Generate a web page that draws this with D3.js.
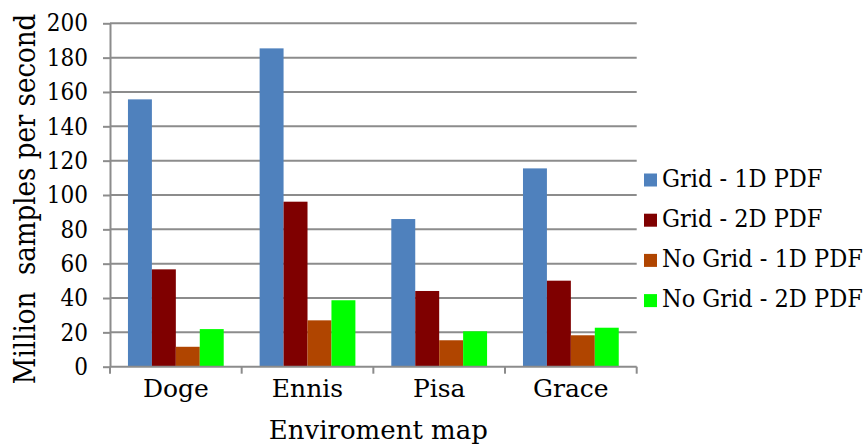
<!DOCTYPE html>
<html>
<head>
<meta charset="utf-8">
<script src="https://cdn.jsdelivr.net/npm/d3@7"></script>
<style>
  html, body { margin: 0; padding: 0; background: #fff; }
  svg { display: block; }
  text { font-family: "DejaVu Serif"; fill: #000; }
  .cond { font-family: "DejaVu Serif Condensed"; font-stretch: condensed; }
</style>
</head>
<body>
<svg id="chart" width="868" height="446"></svg>
<script>
// Throughput per environment map, in million samples per second
const maps = ["Doge", "Ennis", "Pisa", "Grace"];
const seriesNames = ["Grid - 1D PDF", "Grid - 2D PDF", "No Grid - 1D PDF", "No Grid - 2D PDF"];
const grid1D   = [155.7, 185.4, 86.0, 115.5];
const grid2D   = [56.7, 96.1, 44.1, 50.1];
const noGrid1D = [11.6, 27.0, 15.4, 18.3];
const noGrid2D = [21.9, 38.7, 20.6, 22.7];
const yTicks = [0, 20, 40, 60, 80, 100, 120, 140, 160, 180, 200];
const colors = ["#4F81BD", "#7F0000", "#B04500", "#00FF00"];

const seriesValues = [grid1D, grid2D, noGrid1D, noGrid2D];

const svg = d3.select("#chart");
const plotLeft = 110, plotRight = 636.7, plotTop = 23.3, plotBottom = 366.7;

const x = d3.scaleBand().domain(maps).range([plotLeft, plotRight]).paddingInner(0).paddingOuter(0);
const xs = d3.scaleBand().domain(seriesNames)
  .range([0, x.bandwidth()]).paddingInner(0).paddingOuter(0.75);
const y = d3.scaleLinear().domain([0, 200]).range([plotBottom, plotTop]);

const gridColor = "#8C8C8C";

// horizontal gridlines
svg.append("g")
  .selectAll("line")
  .data(yTicks.filter(d => d > 0))
  .join("line")
  .attr("x1", plotLeft).attr("x2", plotRight)
  .attr("y1", d => y(d)).attr("y2", d => y(d))
  .attr("stroke", gridColor).attr("stroke-width", 2);

// clustered bars, one group per series
const groups = svg.append("g")
  .selectAll("g")
  .data(seriesNames.map((name, i) => ({ name, i, values: seriesValues[i] })))
  .join("g")
  .attr("fill", d => colors[d.i]);

groups.selectAll("rect")
  .data(d => d.values.map((v, j) => ({ name: d.name, map: maps[j], v })))
  .join("rect")
  .attr("x", d => x(d.map) + xs(d.name))
  .attr("width", xs.bandwidth())
  .attr("y", d => y(d.v))
  .attr("height", d => y(0) - y(d.v));

// y axis
const yAxis = d3.axisLeft(y).tickValues(yTicks).tickSize(7).tickPadding(15).tickSizeOuter(0);
const gy = svg.append("g").attr("transform", `translate(${plotLeft},0)`).call(yAxis);
gy.select(".domain").attr("stroke", gridColor).attr("stroke-width", 2);
gy.selectAll(".tick line").attr("stroke", gridColor).attr("stroke-width", 2);
gy.selectAll(".tick text").attr("class", "cond")
  .attr("font-size", 24)
  .attr("fill", "#000");

// x axis with tick marks on the category boundaries
const gx = svg.append("g").attr("transform", `translate(0,${plotBottom})`);
gx.append("line")
  .attr("x1", plotLeft).attr("x2", plotRight)
  .attr("stroke", gridColor).attr("stroke-width", 2);
const bounds = maps.map(m => x(m)).concat([plotRight]);
gx.selectAll("line.tk")
  .data(bounds)
  .join("line").attr("class", "tk")
  .attr("x1", d => d).attr("x2", d => d)
  .attr("y1", 0).attr("y2", 7)
  .attr("stroke", gridColor).attr("stroke-width", 2);
gx.selectAll("text")
  .data(maps)
  .join("text")
  .attr("x", d => x(d) + x.bandwidth() / 2)
  .attr("y", 30)
  .attr("text-anchor", "middle")
  .attr("font-size", 25)
  .text(d => d);

// axis titles
svg.append("text")
  .attr("x", (plotLeft + plotRight) / 2 + 5)
  .attr("y", 439)
  .attr("text-anchor", "middle")
  .attr("font-size", 26)
  .text("Enviroment map");

svg.append("text").attr("class", "cond")
  .attr("transform", `translate(35,${(plotTop + plotBottom) / 2 + 4}) rotate(-90)`)
  .attr("text-anchor", "middle")
  .attr("font-size", 29)
  .style("white-space", "pre")
  .text("Million  samples per second");

// legend
const legend = svg.append("g").attr("transform", "translate(644,0)");
const rows = legend.selectAll("g")
  .data(seriesNames)
  .join("g")
  .attr("transform", (d, i) => `translate(0,${186.5 + i * 40.2})`);
rows.append("rect")
  .attr("x", 0).attr("y", -13)
  .attr("width", 13).attr("height", 13)
  .attr("fill", (d, i) => colors[i]);
rows.append("text").attr("class", "cond")
  .attr("x", 18).attr("y", 0)
  .attr("font-size", 25)
  .text(d => d);
</script>
</body>
</html>
